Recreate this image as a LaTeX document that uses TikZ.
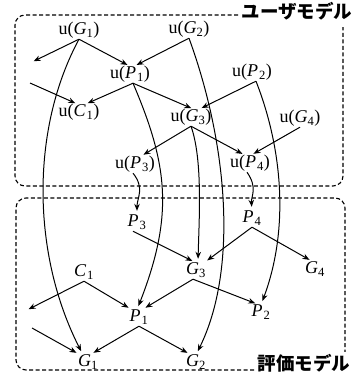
\documentclass[tikz,border=0pt]{standalone}
\usepackage{fontspec}
\setmainfont{Liberation Serif}
\newfontfamily\jpfont{Noto Sans CJK JP}
\usetikzlibrary{arrows.meta}

\begin{document}
\begin{tikzpicture}[x=1pt,y=1pt,>=Stealth,
   every node/.style={font=\fontsize{18}{18}\selectfont,inner sep=1pt,
     text height=10.5pt,text depth=3.5pt},
   arr/.style={->,line width=1pt,shorten >=4pt,
     >={Stealth[length=7pt,width=5.5pt]}},
   model/.style={dashed,dash pattern=on 4pt off 2.5pt,line width=1.1pt,
     rounded corners=10pt},
   modelname/.style={font=\jpfont\bfseries\fontsize{18.5}{18.5}\selectfont,fill=white,
     inner sep=2pt,text height=,text depth=}]
  \useasboundingbox (0,0) rectangle (356,-378);
  % the two models
  \draw[model] (238,-15) -| (15,-186) -| (343,-27);
  \draw[model] (254,-370) -| (16,-198) -| (345,-354);
  \node[modelname] (um) at (297,-11) {ユーザモデル};
  \node[modelname] (em) at (304,-363) {評価モデル};
  % user model
  \node (uG1) at (79,-31) {u(\textit{G}\textsubscript{1})};
  \node (uG2) at (189,-30) {u(\textit{G}\textsubscript{2})};
  \node (uP1) at (130,-75) {u(\textit{P}\kern1pt\textsubscript{1})};
  \node (uP2) at (252,-73) {u(\textit{P}\kern1pt\textsubscript{2})};
  \node (uC1) at (79,-113) {u(\textit{C}\kern1pt\textsubscript{1})};
  \node (uG3) at (191,-118) {u(\textit{G}\textsubscript{3})};
  \node (uG4) at (300,-119) {u(\textit{G}\textsubscript{4})};
  \node (uP3) at (135,-165) {u(\textit{P}\kern1pt\textsubscript{3})};
  \node (uP4) at (250,-164) {u(\textit{P}\kern1pt\textsubscript{4})};
  \coordinate (fa) at (30,-63);
  \coordinate (fb) at (30,-83);
  % evaluation model
  \node (P3) at (137,-223) {\textit{P}\kern1pt\textsubscript{3}};
  \node (P4) at (252,-219) {\textit{P}\kern1pt\textsubscript{4}};
  \node (C1) at (84,-273) {\textit{C}\kern1pt\textsubscript{1}};
  \node (G3) at (196,-271) {\textit{G}\textsubscript{3}};
  \node (G4) at (315,-270) {\textit{G}\textsubscript{4}};
  \node (P1) at (139,-318) {\textit{P}\kern1pt\textsubscript{1}};
  \node (P2) at (261,-313) {\textit{P}\kern1pt\textsubscript{2}};
  \node (G1) at (88,-363) {\textit{G}\textsubscript{1}};
  \node (G2) at (196,-363) {\textit{G}\textsubscript{2}};
  \coordinate (fc) at (25,-311);
  \coordinate (fd) at (32,-328);

  \draw[arr] (uG1.south) -- (fa);
  \draw[arr] (uG1.south) -- ([xshift=1pt]uP1.north);
  \draw[arr] (uG2.south) -- ([xshift=3pt]uP1.north);
  \draw[arr] (fb) -- (uC1.north);
  \draw[arr] ([xshift=3pt]uP1.south) -- ([xshift=5pt]uC1.north);
  \draw[arr] ([xshift=3pt]uP1.south) -- ([xshift=4pt]uG3.north);
  \draw[arr] ([xshift=4pt]uP2.south) -- ([xshift=7pt]uG3.north);
  \draw[arr] (uG3.south) -- ([xshift=5pt]uP3.north);
  \draw[arr] (uG3.south) -- ([xshift=-4pt]uP4.north);
  \draw[arr] (uG4.south) -- (uP4.north);

  \draw[arr] ([xshift=-4pt]P3.south) -- (G3.north);
  \draw[arr] (P4.south) -- ([xshift=8pt]G3.north);
  \draw[arr] (P4.south) -- ([xshift=-2pt]G4.north);
  \draw[arr] (C1.south) -- (fc);
  \draw[arr] (C1.south) -- ([xshift=-7pt]P1.north);
  \draw[arr] ([xshift=-3pt]G3.south) -- ([xshift=3pt]P1.north);
  \draw[arr] ([xshift=-3pt]G3.south) -- ([xshift=-2pt]P2.north);
  \draw[arr] (fd) -- ([xshift=-8pt]G1.north);
  \draw[arr] (P1.south) -- ([xshift=2pt]G1.north);
  \draw[arr] (P1.south) -- ([xshift=-5pt]G2.north);

  % from user model to evaluation model
  \draw[arr] (uG1.south) .. controls (30,-130) and (32,-255) .. ([xshift=-5pt]G1.north);
  \draw[arr] ([xshift=3pt]uP1.south) .. controls (168,-165) and (174,-215) .. ([xshift=-2pt]P1.north);
  \draw[arr] (uG2.south) .. controls (228,-145) and (238,-270) .. (G2.north);
  \draw[arr] ([xshift=4pt]uP2.south) .. controls (283,-150) and (289,-230) .. (P2.north);
  \draw[arr] (uG3.south) .. controls (203,-160) and (199,-220) .. ([xshift=2pt]G3.north);
  \draw[arr] ([xshift=-2pt]uP3.south) .. controls (145,-188) and (137,-198) .. (P3.north);
  \draw[arr] ([xshift=-3pt]uP4.south) .. controls (258,-188) and (251,-196) .. (P4.north);
\end{tikzpicture}
\end{document}
